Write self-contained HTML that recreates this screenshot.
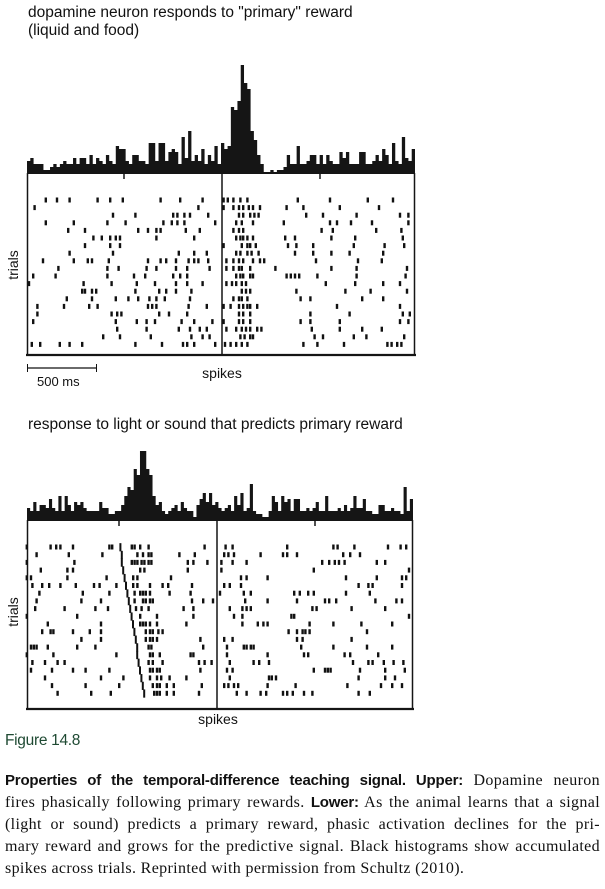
<!DOCTYPE html>
<html><head><meta charset="utf-8"><style>
body{margin:0;background:#fff;width:605px;height:889px;overflow:hidden;position:relative;font-family:"Liberation Sans",sans-serif;}
.t{position:absolute;white-space:nowrap;color:#111;}
.cap{position:absolute;left:5px;width:595px;font-family:"Liberation Serif",serif;font-size:16px;letter-spacing:0.35px;color:#111;text-align:justify;text-align-last:justify;white-space:nowrap;line-height:22px;}
.cap b{font-family:"Liberation Sans",sans-serif;font-size:15px;letter-spacing:-0.2px;}
</style></head><body>
<svg id="fig" width="605" height="889" style="position:absolute;left:0;top:0">
<text x="28" y="17" font-size="15.5" fill="#111">dopamine neuron responds to "primary" reward</text>
<text x="28" y="35" font-size="15.5" fill="#111">(liquid and food)</text>
<text transform="translate(18,265) rotate(-90)" text-anchor="middle" font-size="14" fill="#111">trials</text>
<g><line x1="27" y1="368" x2="97" y2="368" stroke="#111" stroke-width="1.2"/><line x1="27.5" y1="364" x2="27.5" y2="372" stroke="#111"/><line x1="96.5" y1="364" x2="96.5" y2="372" stroke="#111"/></g>
<text x="37" y="386" font-size="13" fill="#111">500 ms</text>
<text x="222" y="378" text-anchor="middle" font-size="14" fill="#111">spikes</text>
<text x="28" y="429" font-size="15.5" fill="#111">response to light or sound that predicts primary reward</text>
<text transform="translate(18,612) rotate(-90)" text-anchor="middle" font-size="14" fill="#111">trials</text>
<text x="218" y="724" text-anchor="middle" font-size="14" fill="#111">spikes</text>
</svg>
<div class="t" style="left:5px;top:732px;font-size:15.5px;color:#1f4a33;letter-spacing:-0.3px">Figure 14.8</div>
<div class="cap" style="top:770px"><b>Properties of the temporal-difference teaching signal. Upper:</b> Dopamine neuron</div>
<div class="cap" style="top:792px">fires phasically following primary rewards. <b>Lower:</b> As the animal learns that a signal</div>
<div class="cap" style="top:814px">(light or sound) predicts a primary reward, phasic activation declines for the pri-</div>
<div class="cap" style="top:836px">mary reward and grows for the predictive signal. Black histograms show accumulated</div>
<div class="cap" style="top:858px;text-align-last:left">spikes across trials. Reprinted with permission from Schultz (2010).</div>
<script>
const upperHist=[4,5,3,3,3,1,1,2,3,2,3,4,3,3,5,3,5,5,3,6,3,5,4,3,6,4,3,9,8,8,4,3,6,6,4,4,3,10,10,4,10,10,4,7,8,7,3,12,5,14,4,6,4,8,3,6,4,9,3,10,8,9,22,21,24,36,30,28,14,11,6,3,0,0,1,0,1,1,2,6,3,3,9,3,3,4,6,6,3,6,3,6,4,3,3,7,5,7,3,3,3,7,7,3,3,4,6,4,8,6,3,10,4,3,12,5,4,8];
const lowerHist=[4,3,6,3,5,5,4,7,4,3,8,3,8,5,3,6,5,6,4,3,3,3,3,6,4,4,2,2,3,3,5,8,11,10,17,15,23,23,17,15,8,5,6,3,2,3,4,5,3,6,4,3,3,1,5,7,9,6,9,5,6,4,3,4,5,3,8,5,9,3,4,12,3,2,2,1,1,3,8,6,3,8,6,7,3,7,7,3,3,4,3,4,6,3,3,8,3,3,3,4,3,5,3,4,8,4,4,7,3,3,2,2,5,5,3,3,4,3,3,2,11,3,7];
const upperTrials=[
[-1260,-1180,-1090,-890,-800,-710,-440,-300,-140,10,40,80,130,180,540,770,1040,1220],
[-1340,-170,10,80,120,150,190,220,270,460,580,840,1120],
[-780,-620,-350,-320,-270,-230,-100,120,150,200,230,260,600,720,960,1270,1330],
[-1260,-1060,-820,-690,-420,-360,-320,-270,-50,100,140,220,440,770,820,920,1070,1330],
[-1100,-980,-600,-530,-470,-440,-260,-160,80,120,150,710,790,1100,1280],
[-920,-860,-800,-760,-730,-470,-200,100,130,150,180,220,450,520,780,950,1290],
[-980,-800,-730,10,140,180,200,240,470,530,650,940,1160,1300],
[-1090,-780,-310,-200,-110,100,130,180,210,260,520,650,780,910,1150],
[-1280,-1060,-960,-930,-810,-530,-440,-400,-330,-240,-200,-170,-100,30,80,120,150,220,270,300,670,970,1140],
[-1170,-820,-740,-540,-470,-330,-250,-90,30,80,120,140,200,380,780,960,1320],
[-1350,-1190,-820,-630,-550,-350,-300,-250,100,130,150,200,220,460,490,520,550,680,960,1310],
[-1380,-990,-790,-610,-480,-330,-250,-140,30,70,100,140,170,740,950,1150,1270],
[-1000,-980,-930,-900,-620,-450,-400,-330,-220,140,170,200,530,880,1060,1320],
[-1110,-930,-760,-670,-600,-520,-470,-410,-230,80,120,140,180,560,630,1000,1150],
[-1320,-1130,-950,-890,-530,-500,-470,-240,-110,10,60,120,150,180,200,250,820,1270],
[-1320,-790,-750,-720,-450,-380,-250,120,150,200,630,910,1290,1340],
[-1350,-760,-610,-540,-480,-290,-200,-70,10,120,150,200,560,630,840,1270,1330],
[-750,-540,-310,-230,-160,-110,30,100,140,170,200,250,280,640,840,1000,1140],
[-850,-730,-510,-220,-140,-90,130,160,200,220,660,720,940,1030,1300],
[-1360,-1300,-1160,-1090,-1000,-620,-430,-280,-250,-200,-50,20,60,100,140,180,580,680,870,1180,1210,1250,1280]];
const lowerTrials=[
[-1360,-1190,-1150,-1120,-1030,-770,-750,-610,-590,-550,-490,-90,60,110,500,830,860,980,1220,1310,1350],
[-1290,-1060,-820,-570,-530,-490,-470,-270,-160,50,80,120,310,470,500,570,900,950,1020],
[-1360,-1020,-610,-590,-570,-540,-520,-490,-470,-210,-170,-70,30,110,210,750,800,840,870,910,1140,1200],
[-1260,-1070,-1030,-550,-520,-210,30,690,1370],
[-1360,-1330,-1070,-790,-600,-570,-330,170,210,360,920,1140,1320,1350],
[-1320,-1250,-1200,-1120,-1010,-880,-840,-720,-600,-570,-480,-390,-350,-180,50,90,170,1010,1080,1110,1320],
[-1270,-960,-770,-590,-550,-530,-510,-480,-340,-190,20,190,240,550,590,650,690,920,1090],
[-1290,-970,-830,-590,-530,-510,-480,-460,-180,-100,-30,200,360,570,770,800,850,1130,1280,1320],
[-1300,-1090,-870,-780,-580,-540,-490,-240,-170,90,180,210,240,680,710,960,1200],
[-1360,-1000,-550,-430,-170,120,180,530,550,1370],
[-1210,-830,-550,-530,-510,-480,-430,-220,180,290,330,360,660,830,1030,1250],
[-1250,-1190,-1170,-1030,-910,-830,-510,-480,-460,-420,-390,510,570,610,630,660,1070],
[-970,-830,-510,-480,-460,-430,-120,50,110,570,610,960],
[-1330,-1310,-1290,-1210,-1000,-870,-490,-470,-100,70,190,210,240,260,600,830,1070,1250],
[-1360,-1170,-720,-480,-460,-410,-190,-170,70,360,620,650,910,950,1150],
[-1320,-1230,-1140,-1090,-490,-460,-390,-130,-90,-40,90,260,300,370,970,1080,1110,1190,1260,1330],
[-1330,-1180,-1030,-940,-770,-480,-460,-430,-410,-120,70,110,690,770,790,810,1020,1200,1340],
[-1230,-830,-670,-480,-430,-400,-340,-220,90,370,390,420,1010,1200,1270],
[-1180,-940,-700,-460,-430,-410,-360,-310,-110,50,80,120,150,360,560,930,1170,1250,1320],
[-1140,-900,-760,-450,-430,-410,-360,-310,-130,140,210,310,350,470,500,540,620,680,1010,1090]];
const lowerCue=[-690,-680,-680,-670,-660,-650,-640,-630,-620,-610,-600,-590,-580,-570,-570,-560,-550,-540,-530,-520];

const NS='http://www.w3.org/2000/svg';
const svg=document.getElementById('fig');
function mk(tag,attrs,parent){const e=document.createElementNS(NS,tag);for(const k in attrs)e.setAttribute(k,attrs[k]);(parent||svg).appendChild(e);return e;}

function panel(p){
  const x=t=>p.mid+t*p.pxPerMs;
  const g=mk('g',{});
  
  
  const bw=(p.right-p.left)/p.hist.length;
  let d='M'+p.left+','+p.base;
  p.hist.forEach((v,i)=>{const h=p.base-v*p.pxPerCount;d+=' L'+(p.left+i*bw)+','+h+' L'+(p.left+(i+1)*bw)+','+h;});
  d+=' L'+p.right+','+p.base+' Z';
  const hp=mk('path',{d:d,fill:'#151515'},g);
  
  
  const fr=mk('g',{stroke:'#151515',fill:'none'},g);
  
  
  mk('line',{x1:p.left,y1:p.base,x2:p.right,y2:p.base,'stroke-width':2},fr);
  mk('line',{x1:p.left+0.5,y1:p.base,x2:p.left+0.5,y2:p.bottom,'stroke-width':1.5},fr);
  mk('line',{x1:p.right-0.5,y1:p.base,x2:p.right-0.5,y2:p.bottom,'stroke-width':1.5},fr);
  mk('line',{x1:p.mid,y1:p.base,x2:p.mid,y2:p.bottom,'stroke-width':1.5},fr);
  mk('line',{x1:p.left-1,y1:p.bottom,x2:p.right+1,y2:p.bottom,'stroke-width':2.2},fr);
  p.ticks.forEach(t=>{mk('line',{x1:x(t),y1:p.base,x2:x(t),y2:p.base+6,'stroke-width':1.5},fr);});
  const rg=mk('g',{fill:'#111'},g);
  
  
  p.trials.forEach((row,r)=>{
    const y=p.row0+r*p.rowStep;
    row.forEach(t=>{
      const s=mk('rect',{x:x(t)-1,y:y-2.5,width:2.4,height:5},rg);
      
      
    });
    if(p.cue){
      const c=mk('rect',{x:x(p.cue[r])-1,y:y-p.rowStep/2,width:2,height:p.rowStep+0.5},rg);
      
      
    }
  });
}
panel({name:'upper',left:27,right:415,mid:222,pxPerMs:0.14,base:173,bottom:355,pxPerCount:3,hist:upperHist,trials:upperTrials,row0:200,rowStep:7.6,ticks:[-700,700]});
panel({name:'lower',left:27,right:413,mid:217,pxPerMs:0.14,base:520,bottom:709,pxPerCount:3,hist:lowerHist,trials:lowerTrials,cue:lowerCue,row0:547,rowStep:7.7,ticks:[-700,700]});
</script>
</body></html>
